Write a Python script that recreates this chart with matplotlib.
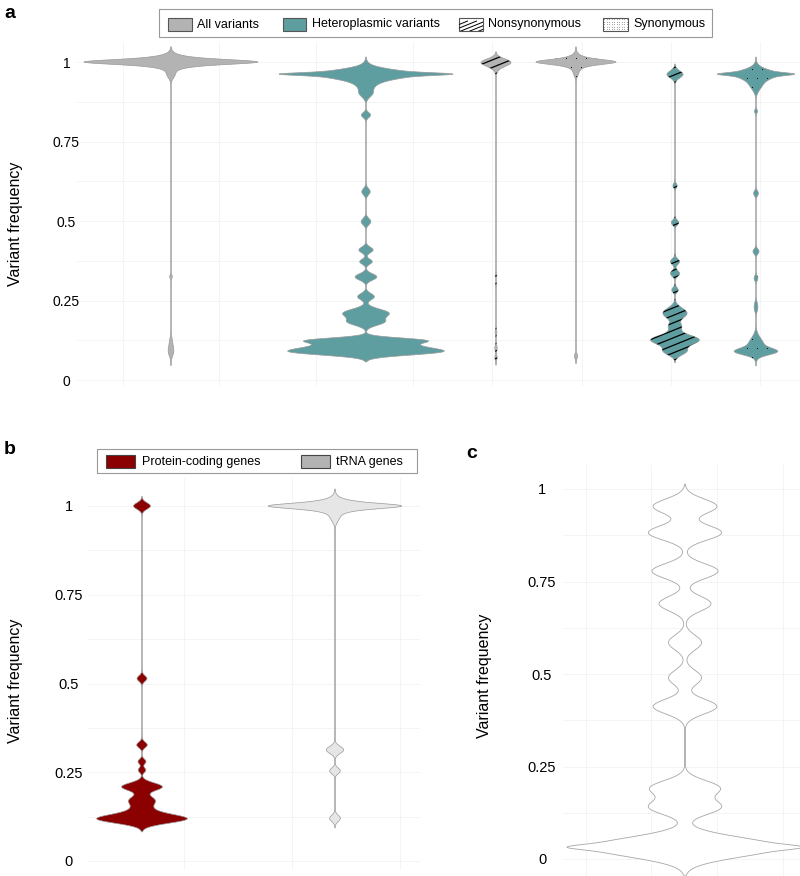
import numpy as np
import matplotlib
matplotlib.use('Agg')
import matplotlib.pyplot as plt
from matplotlib.patches import Polygon, Rectangle
from matplotlib.collections import LineCollection

plt.rcParams['font.family'] = ['Liberation Sans', 'DejaVu Sans']

W, H = 800, 876

## data: each violin is a kde made of (centre, weight, sd) in variant frequency
# panel a
all_c = [1.0, 1.0, 1.0, 0.96, 0.325, 0.12, 0.09]
all_w = [0.4, 0.4, 0.2, 0.04, 0.015, 0.015, 0.03]
all_s = [0.006, 0.01, 0.016, 0.012, 0.006, 0.015, 0.015]

het_c = [0.962, 0.962, 0.962, 0.935, 0.90, 0.833, 0.592, 0.498, 0.409, 0.372, 0.324, 0.262, 0.21, 0.182, 0.125, 0.105, 0.087]
het_w = [0.45, 0.35, 0.2, 0.1, 0.06, 0.055, 0.05, 0.058, 0.085, 0.075, 0.13, 0.10, 0.27, 0.2, 0.55, 0.55, 0.68]
het_s = [0.004, 0.012, 0.018, 0.02, 0.012, 0.008, 0.01, 0.01, 0.009, 0.008, 0.01, 0.01, 0.013, 0.011, 0.008, 0.013, 0.01]

ns_all_c = [0.999, 0.982, 0.33, 0.30, 0.15, 0.10, 0.07]
ns_all_w = [1.0, 0.15, 0.06, 0.05, 0.06, 0.08, 0.08]
ns_all_s = [0.011, 0.012, 0.006, 0.006, 0.01, 0.01, 0.008]

syn_all_c = [1.0, 1.0, 1.0, 0.965, 0.075]
syn_all_w = [0.4, 0.4, 0.2, 0.05, 0.04]
syn_all_s = [0.006, 0.01, 0.016, 0.012, 0.008]

ns_het_c = [0.961, 0.611, 0.495, 0.372, 0.335, 0.283, 0.21, 0.168, 0.126, 0.09]
ns_het_w = [0.3, 0.08, 0.14, 0.17, 0.17, 0.12, 0.45, 0.22, 0.9, 0.4]
ns_het_s = [0.011, 0.007, 0.008, 0.009, 0.009, 0.008, 0.016, 0.012, 0.015, 0.012]

syn_het_c = [0.962, 0.962, 0.962, 0.93, 0.845, 0.587, 0.404, 0.32, 0.23, 0.11, 0.089]
syn_het_w = [0.45, 0.35, 0.2, 0.15, 0.04, 0.065, 0.08, 0.05, 0.05, 0.2, 0.45]
syn_het_s = [0.004, 0.012, 0.018, 0.018, 0.006, 0.008, 0.008, 0.008, 0.014, 0.022, 0.01]

# panel b
pc_c = [1.0, 0.514, 0.327, 0.28, 0.256, 0.209, 0.172, 0.14, 0.118]
pc_w = [0.2, 0.118, 0.125, 0.095, 0.09, 0.48, 0.26, 0.25, 0.95]
pc_s = [0.009, 0.008, 0.008, 0.007, 0.007, 0.011, 0.012, 0.018, 0.012]

trna_c = [1.0, 1.0, 1.0, 0.965, 0.313, 0.254, 0.12]
trna_w = [0.4, 0.4, 0.2, 0.05, 0.13, 0.08, 0.08]
trna_s = [0.006, 0.01, 0.016, 0.012, 0.01, 0.008, 0.009]

# panel c
c_c = [0.953, 0.882, 0.778, 0.69, 0.585, 0.49, 0.412, 0.192, 0.14, 0.032, 0.032]
c_w = [0.27, 0.31, 0.28, 0.22, 0.14, 0.14, 0.27, 0.29, 0.3, 0.2, 0.8]
c_s = [0.02, 0.02, 0.02, 0.02, 0.02, 0.02, 0.02, 0.02, 0.02, 0.006, 0.026]

yticks = [0, 0.25, 0.5, 0.75, 1]
yticklabels = ['0', '0.25', '0.5', '0.75', '1']
legend_a = ['All variants', 'Heteroplasmic variants', 'Nonsynonymous', 'Synonymous']
legend_b = ['Protein-coding genes', 'tRNA genes']

GREY = '#b3b3b3'
TEAL = '#5f9ea0'
RED = '#8b0000'
LIGHT = '#e6e6e6'
EDGE = '#999999'
GRID = '#f3f3f3'


def px_axes(x0, x1, y0, y1):
    return fig.add_axes([x0 / W, 1 - y1 / H, (x1 - x0) / W, (y1 - y0) / H])


def violin(ax, cx, c, w, s, hw_max, fc, ec=EDGE, lw=0.5):
    c, w, s = np.asarray(c), np.asarray(w), np.asarray(s)
    y = np.linspace((c - 3 * s).min(), (c + 3 * s).max(), 2500)
    d = (w[:, None] * np.exp(-0.5 * ((y[None, :] - c[:, None]) / s[:, None]) ** 2)).sum(0)
    hw = d / d.max() * hw_max
    verts = np.r_[np.c_[cx - hw, y], np.c_[cx + hw, y][::-1]]
    p = Polygon(verts, closed=True, fc=fc, ec=ec, lw=lw, zorder=3)
    ax.add_patch(p)
    return p, y


def stripes(ax, p, y, cx, hw_max, ppu, gap=7.5, ang=22):
    t = np.tan(np.radians(ang))
    x0, x1 = cx - hw_max - 5, cx + hw_max + 5
    rise = (x1 - x0) * t / ppu
    segs = [[(x0, b), (x1, b + rise)] for b in np.arange(y.min() - rise, y.max() + 0.01, gap / ppu)]
    lc = LineCollection(segs, colors='black', linewidths=0.9, zorder=4)
    ax.add_collection(lc)
    lc.set_clip_path(p)


def dots(ax, p, y, cx, hw_max, ppu, gap=10):
    pts = []
    for i, yy in enumerate(np.arange(y.min(), y.max(), gap * 0.9 / ppu)):
        off = (i % 2) * gap / 2
        for xx in np.arange(cx - hw_max - gap + off, cx + hw_max + gap, gap):
            pts.append((xx, yy))
    pts = np.array(pts)
    sc = ax.scatter(pts[:, 0], pts[:, 1], s=0.6, c='black', lw=0, zorder=4)
    sc.set_clip_path(p)


def style(ax, xlim, ylim, vgrid, pad, fs):
    ax.set_xlim(*xlim)
    ax.set_ylim(*ylim)
    for sp in ax.spines.values():
        sp.set_visible(False)
    ax.set_xticks([])
    ax.set_yticks(yticks)
    ax.set_yticklabels(yticklabels, fontsize=fs)
    for lab in ax.get_yticklabels():
        lab.set_horizontalalignment('center')
    ax.tick_params(axis='y', length=0, pad=pad)
    for v in np.arange(0, 1.01, 0.125):
        ax.axhline(v, color=GRID, lw=0.6, zorder=1)
    for xv in vgrid:
        ax.axvline(xv, color=GRID, lw=0.6, zorder=1)


fig = plt.figure(figsize=(W / 100, H / 100), dpi=100)

## panel a
axa = px_axes(77, 800, 42, 386)
style(axa, (77, 800), ((380 - 386) / 318, (380 - 42) / 318),
      [123, 219, 316, 413, 492, 582, 671, 760], 7.6, 10)
ppa = 318
violin(axa, 171, all_c, all_w, all_s, 87, GREY)
violin(axa, 366, het_c, het_w, het_s, 87, TEAL)
p, y = violin(axa, 496, ns_all_c, ns_all_w, ns_all_s, 15, GREY)
stripes(axa, p, y, 496, 15, ppa)
p, y = violin(axa, 576, syn_all_c, syn_all_w, syn_all_s, 40, GREY)
dots(axa, p, y, 576, 40, ppa)
p, y = violin(axa, 675, ns_het_c, ns_het_w, ns_het_s, 24.3, TEAL)
stripes(axa, p, y, 675, 24.3, ppa)
p, y = violin(axa, 756, syn_het_c, syn_het_w, syn_het_s, 38.7, TEAL)
dots(axa, p, y, 756, 38.7, ppa)

## panel b
axb = px_axes(88, 420, 478, 870)
style(axb, (88, 420), ((861 - 870) / 355, (861 - 478) / 355), [184, 292, 400], 13.7, 10.5)
violin(axb, 142, pc_c, pc_w, pc_s, 45.3, RED)
violin(axb, 335, trna_c, trna_w, trna_s, 66.7, LIGHT)

## panel c
axc = px_axes(563, 800, 465, 876)
style(axc, (563, 800), ((859 - 876) / 370, (859 - 465) / 370), [586, 651, 717, 783], 15.1, 10.5)
violin(axc, 685, c_c, c_w, c_s, 118, 'white', ec='#a6a6a6', lw=0.6)

## overlay: legends, labels, panel letters
ov = fig.add_axes([0, 0, 1, 1])
ov.set_xlim(0, W)
ov.set_ylim(H, 0)
ov.axis('off')

ov.add_patch(Rectangle((159, 9), 553, 28, fc='white', ec='#999999', lw=0.8))
sw = [(168, 24, GREY), (283, 23, TEAL), (459, 24, 'white'), (603, 25, 'white')]
tx = [197, 312, 488, 633]
for (x, wd, col), t, lab in zip(sw, tx, legend_a):
    r = Rectangle((x, 18), wd, 13, fc=col, ec='#555555', lw=0.8)
    ov.add_patch(r)
    ov.text(t, 24.5, lab, fontsize=9, va='center', ha='left')
# hatch in legend swatch
r = ov.patches[3]
segs = [[(459 + k, 33), (459 + k + 30, 33 - 30 * np.tan(np.radians(22)))] for k in np.arange(-30, 30, 9)]
lc = LineCollection(segs, colors='black', linewidths=0.7)
ov.add_collection(lc)
lc.set_clip_path(r)
# dots in legend swatch
r = ov.patches[4]
gx, gy = np.meshgrid(np.arange(604, 628, 2.5), np.arange(19, 31, 2.5))
sc = ov.scatter(gx.ravel(), gy.ravel(), s=0.25, c='#777777', lw=0)
sc.set_clip_path(r)

ov.add_patch(Rectangle((97, 449), 320, 24, fc='white', ec='#999999', lw=0.8))
for x, col, t, lab in zip([106, 301], [RED, GREY], [142, 336], legend_b):
    ov.add_patch(Rectangle((x, 455), 29, 13, fc=col, ec='#444444', lw=0.8))
    ov.text(t, 461.5, lab, fontsize=9, va='center', ha='left')

ov.text(15.5, 224, 'Variant frequency', rotation=90, fontsize=11.5, ha='center', va='center')
ov.text(15.5, 681, 'Variant frequency', rotation=90, fontsize=11.5, ha='center', va='center')
ov.text(484, 676, 'Variant frequency', rotation=90, fontsize=11.5, ha='center', va='center')

ov.text(4, 13, 'a', fontsize=14, fontweight='bold', ha='left', va='center')
ov.text(4, 450, 'b', fontsize=14, fontweight='bold', ha='left', va='center')
ov.text(466, 453, 'c', fontsize=14, fontweight='bold', ha='left', va='center')

plt.savefig('out.png', dpi=100)
plt.close(fig)
